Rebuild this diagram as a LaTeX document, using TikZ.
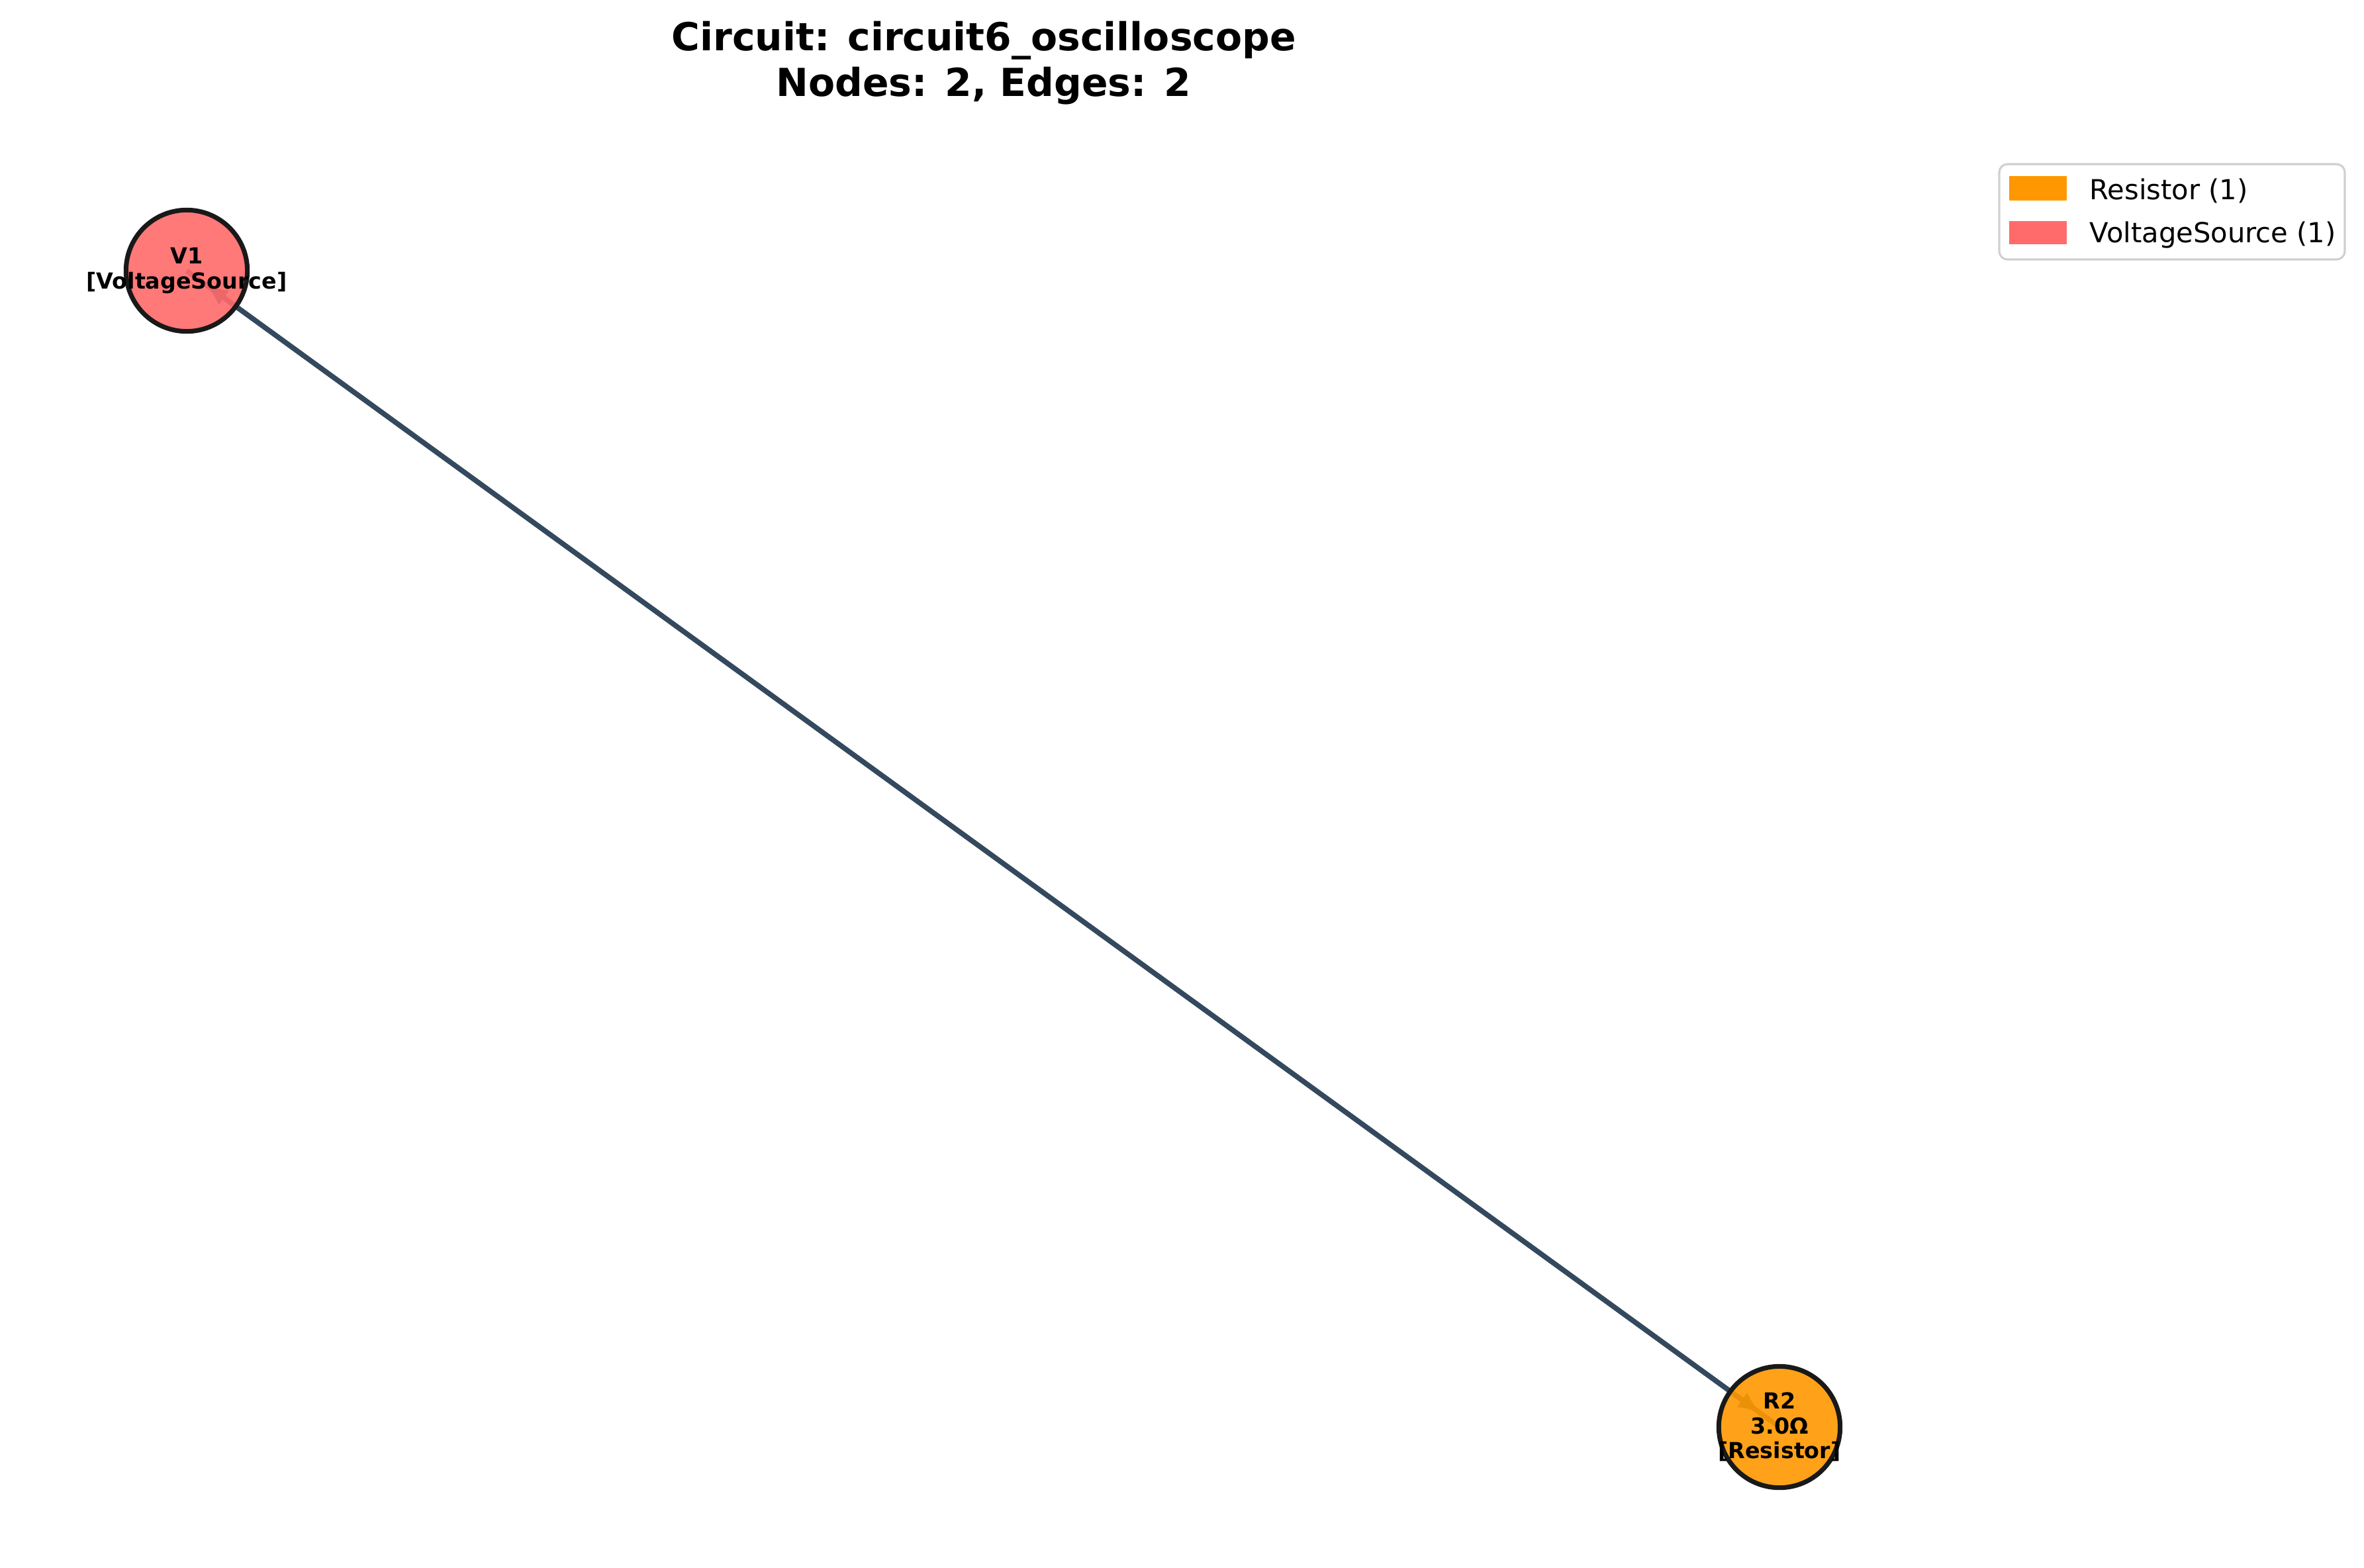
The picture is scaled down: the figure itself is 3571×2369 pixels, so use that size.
\documentclass[tikz,border=0pt]{standalone}
\usepackage{fontspec}
\setmainfont{DejaVu Sans}
\usetikzlibrary{arrows.meta,backgrounds}
\definecolor{edgec}{RGB}{52,73,94}
\definecolor{resc}{RGB}{255,152,0}
\definecolor{vsc}{RGB}{255,107,107}
\definecolor{legborder}{RGB}{208,208,208}
\tikzset{
  comp/.style={circle, draw=black!90, line width=1.7pt, fill opacity=0.9, minimum size=44pt, inner sep=0pt},
  lbl/.style={align=center, font=\fontsize{8}{9}\selectfont\bfseries, inner sep=0pt},
  edge/.style={draw=edgec, line width=1.8pt, -{Latex[length=8.5pt,width=6.5pt]}, shorten >=8.2pt},
  legtext/.style={anchor=base west, font=\fontsize{10}{12}\selectfont, inner sep=0pt},
}
\begin{document}
\begin{tikzpicture}[x=0.24pt, y=-0.24pt]
\useasboundingbox (0,0) rectangle (3571,2369);
% title
\node[anchor=north, align=center, inner sep=0pt, font=\fontsize{14}{16.6}\selectfont\bfseries] (title) at (1486,31)
  {Circuit: circuit6\_oscilloscope\\Nodes: 2, Edges: 2};
% components
\node[comp, fill=vsc] (v1) at (282,409) {};
\node[comp, fill=resc] (r2) at (2688,2156) {};
\node[lbl] (v1l) at (v1) {V1\\{[}VoltageSource{]}};
\node[lbl] (r2l) at (r2) {R2\\3.0Ω\\{[}Resistor{]}};
% connectors
\begin{scope}[on background layer]
\fill[white] (0,0) rectangle (3571,2369);
\draw[edge] (v1.center) -- (r2.center);
\draw[edge] (r2.center) -- (v1.center);
\end{scope}
% legend
\draw[legborder, line width=0.75pt, fill=white, rounded corners=3pt] (3020,248) rectangle (3542,392);
\fill[resc] (3035,266) rectangle (3122,303);
\fill[vsc] (3035,334) rectangle (3122,369);
\node[legtext] (legr) at (3156,301) {Resistor (1)};
\node[legtext] (legv) at (3156,366) {VoltageSource (1)};
\end{tikzpicture}
\end{document}
